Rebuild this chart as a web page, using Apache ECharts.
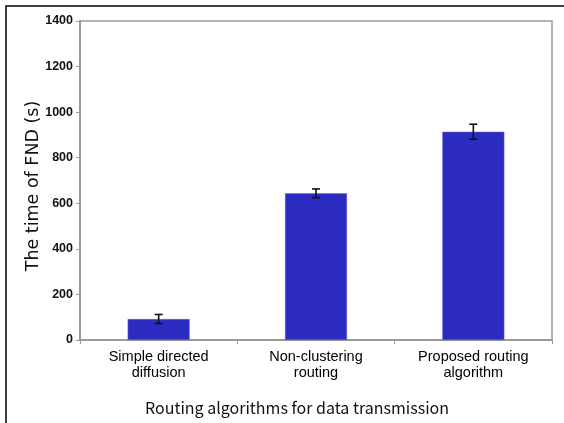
<!DOCTYPE html>
<html><head><meta charset="utf-8">
<script src="https://cdn.jsdelivr.net/npm/echarts@6/dist/echarts.min.js"></script>
<style>html,body{margin:0;padding:0;background:#fff}#c{width:564px;height:423px}</style>
</head><body><div id="c"></div>
<script>
const categories = ['Simple directed\ndiffusion', 'Non-clustering\nrouting', 'Proposed routing\nalgorithm'];
const fndTime = [92, 644, 914];
const fndError = [20, 19, 33];
const yTicks = { min: 0, max: 1400, interval: 200 };
const xTitle = 'Routing algorithms for data transmission';
const yTitle = 'The time of FND (s)';

const chart = echarts.init(document.getElementById('c'), null, { renderer: 'canvas' });
const errData = fndTime.map((v, i) => [i, v - fndError[i], v + fndError[i]]);
chart.setOption({
  animation: false,
  backgroundColor: '#fff',
  grid: { left: 80, top: 21, right: 12, bottom: 83, show: true, borderColor: '#9a9a9a', borderWidth: 1.5 },
  xAxis: {
    type: 'category', data: categories,
    axisLine: { lineStyle: { color: '#9a9a9a', width: 2 } },
    axisTick: { show: true, length: 4, lineStyle: { color: '#9a9a9a' } },
    axisLabel: { color: '#000', fontFamily: '"Liberation Sans"', fontSize: 14.5, lineHeight: 16, margin: 9 }
  },
  yAxis: {
    type: 'value', min: yTicks.min, max: yTicks.max, interval: yTicks.interval,
    splitLine: { show: false },
    axisLine: { show: true, lineStyle: { color: '#9a9a9a', width: 2 } },
    axisTick: { show: true, length: 4, lineStyle: { color: '#9a9a9a' } },
    axisLabel: { color: '#111', fontFamily: '"Liberation Sans"', fontSize: 12.5, fontWeight: 'bold', margin: 7,
      formatter: function (v) { return String(v); } }
  },
  series: [
    { type: 'bar', data: fndTime, barWidth: 62, itemStyle: { color: '#2b2bc2', borderColor: '#6a6ae0', borderWidth: 0.5 } },
    { type: 'custom', data: errData, z: 10,
      renderItem: function (params, api) {
        const x = api.coord([api.value(0), api.value(1)])[0];
        const lo = api.coord([api.value(0), api.value(1)])[1];
        const hi = api.coord([api.value(0), api.value(2)])[1];
        const w = 4;
        const st = { stroke: '#111', lineWidth: 1.6 };
        return { type: 'group', children: [
          { type: 'line', shape: { x1: x, y1: lo, x2: x, y2: hi }, style: st },
          { type: 'line', shape: { x1: x - w, y1: lo, x2: x + w, y2: lo }, style: st },
          { type: 'line', shape: { x1: x - w, y1: hi, x2: x + w, y2: hi }, style: st }
        ]};
      }
    }
  ],
  graphic: [
    { type: 'rect', shape: { x: 6, y: 6, width: 620, height: 500 }, style: { fill: 'none', stroke: '#000', lineWidth: 1.5 }, silent: true },
    { type: 'text', x: 297, y: 408, style: { text: xTitle, align: 'center', verticalAlign: 'middle', font: '16px "Noto Sans CJK JP"', fill: '#111' } },
    { type: 'text', rotation: Math.PI / 2, x: 33, y: 186, style: { text: yTitle, align: 'center', verticalAlign: 'middle', font: '17.5px "DejaVu Sans"', fill: '#111' } }
  ]
});
</script></body></html>
